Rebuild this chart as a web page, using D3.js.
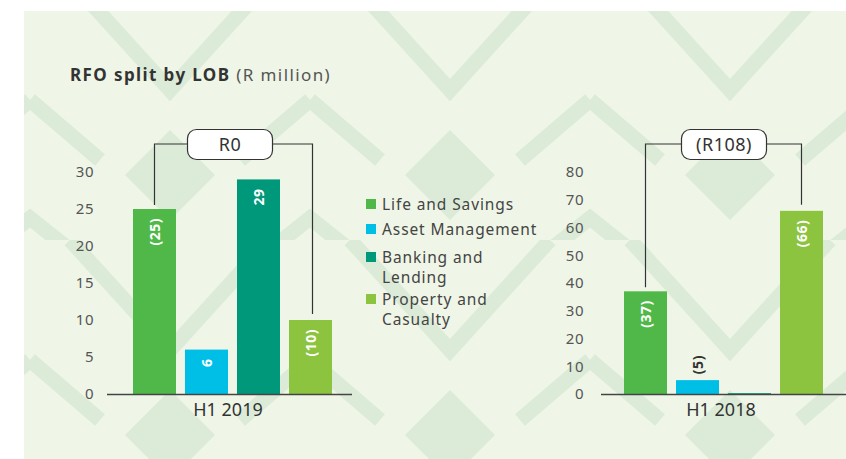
<!DOCTYPE html>
<html>
<head>
<meta charset="utf-8">
<script src="https://cdn.jsdelivr.net/npm/d3@7"></script>
<style>
  body { margin: 0; background: #fff; }
  svg { display: block; font-family: "Noto Sans", sans-serif; }
</style>
</head>
<body>
<svg id="chart" width="846" height="459"></svg>
<script>
// line of business categories
const categories = ['Life and Savings', 'Asset Management', 'Banking and Lending', 'Property and Casualty'];
const legendLines = [['Life and Savings'], ['Asset Management'], ['Banking and', 'Lending'], ['Property and', 'Casualty']];
const colors = ['#50b848', '#00bfe7', '#00987a', '#8cc43f'];

// bar heights (absolute) and the label printed on them
const values2019 = [25, 6, 29, 10];
const labels2019 = ['(25)', '6', '29', '(10)'];
const values2018 = [37, 5, 0.3, 66];
const labels2018 = ['(37)', '(5)', '', '(66)'];

const ticks2019 = [0, 5, 10, 15, 20, 25, 30];
const ticks2018 = [0, 10, 20, 30, 40, 50, 60, 70, 80];
const totals = ['R0', '(R108)'];
const periods = ['H1 2019', 'H1 2018'];

const svg = d3.select('#chart');

// background panel with chevron / diamond stripes
const defs = svg.append('defs');
const pat = defs.append('pattern')
  .attr('id', 'bgpat')
  .attr('patternUnits', 'userSpaceOnUse')
  .attr('width', 280).attr('height', 260)
  .attr('x', 30).attr('y', -20);
pat.append('rect').attr('width', 280).attr('height', 260).attr('fill', '#eff6e7');
const stripe = '#dcebd8';
// big chevron
pat.append('path').attr('d', 'M40,0 L140,110 L240,0').attr('fill', 'none').attr('stroke', stripe).attr('stroke-width', 15);
// diamond
pat.append('path').attr('d', 'M140,150 L185,195 L140,240 L95,195 Z').attr('fill', stripe);
// slanted bands
pat.append('path').attr('d', 'M0,120 L70,180').attr('stroke', stripe).attr('stroke-width', 15);
pat.append('path').attr('d', 'M210,180 L280,120').attr('stroke', stripe).attr('stroke-width', 15);
pat.append('path').attr('d', 'M-10,230 L40,270').attr('stroke', stripe).attr('stroke-width', 15);
pat.append('path').attr('d', 'M240,270 L290,230').attr('stroke', stripe).attr('stroke-width', 15);

svg.append('rect')
  .attr('x', 24).attr('y', 11)
  .attr('width', 822).attr('height', 448)
  .attr('fill', 'url(#bgpat)');

// title
const title = svg.append('text').attr('x', 70).attr('y', 81).attr('fill', '#333')
  .style('font-size', '17px').style('letter-spacing', '1.4px');
title.append('tspan').attr('font-weight', 'bold').text('RFO split by LOB');
title.append('tspan').attr('fill', '#555').text(' (R million)');

function drawPanel(opt) {
  const g = svg.append('g');

  const x = d3.scaleBand()
    .domain(categories)
    .range(opt.xRange)
    .paddingInner(9 / 52)
    .paddingOuter(0);

  const y = d3.scaleLinear()
    .domain([0, opt.max])
    .range([394, 172]);

  // y tick labels
  const yAxis = d3.axisLeft(y).tickValues(opt.ticks).tickSize(0).tickPadding(0);
  const ax = g.append('g')
    .attr('transform', 'translate(' + opt.tickX + ',0)')
    .call(yAxis);
  ax.select('.domain').remove();
  ax.selectAll('text')
    .style('font-size', '15px')
    .style('font-family', '"Noto Sans", sans-serif')
    .style('letter-spacing', '0.5px')
    .attr('fill', '#555');

  // bars
  g.selectAll('.bar')
    .data(opt.values)
    .enter().append('rect')
    .attr('class', 'bar')
    .attr('x', (d, i) => x(categories[i]))
    .attr('y', d => y(d))
    .attr('width', x.bandwidth())
    .attr('height', d => y(0) - y(d))
    .attr('fill', (d, i) => colors[i]);

  // baseline
  g.append('line')
    .attr('x1', opt.axisX[0]).attr('x2', opt.axisX[1])
    .attr('y1', y(0) + 0.5).attr('y2', y(0) + 0.5)
    .attr('stroke', '#444').attr('stroke-width', 1.5);

  // value labels, rotated
  g.selectAll('.lbl')
    .data(opt.values)
    .enter().append('text')
    .attr('class', 'lbl')
    .attr('transform', (d, i) => {
      const cx = x(categories[i]) + x.bandwidth() / 2;
      const inside = y(0) - y(d) > 30;
      const ty = inside ? y(d) + 9 : y(d) - 6;
      return 'translate(' + (cx + 5) + ',' + ty + ') rotate(-90)';
    })
    .attr('text-anchor', d => (y(0) - y(d) > 30 ? 'end' : 'start'))
    .attr('fill', d => (y(0) - y(d) > 30 ? '#fff' : '#333'))
    .attr('font-weight', 'bold')
    .style('font-size', '14px')
    .style('letter-spacing', '0.5px')
    .text((d, i) => opt.labels[i]);

  // period label
  g.append('text')
    .attr('x', opt.periodX).attr('y', 416)
    .attr('text-anchor', 'middle')
    .attr('fill', '#333')
    .style('font-size', '18px')
    .text(opt.period);

  // bracket joining first and last bar with the total
  const first = x(categories[0]) + x.bandwidth() / 2;
  const last = x(categories[3]) + x.bandwidth() / 2 + opt.lastShift;
  const top = 144;
  g.append('path')
    .attr('d', 'M' + first + ',' + (y(opt.values[0]) - 4) + 'V' + top + 'H' + last + 'V' + (y(opt.values[3]) - 6))
    .attr('fill', 'none')
    .attr('stroke', '#333').attr('stroke-width', 1.2);

  g.append('rect')
    .attr('x', opt.boxX).attr('y', 129.5)
    .attr('width', 85).attr('height', 30)
    .attr('rx', 9)
    .attr('fill', '#fff')
    .attr('stroke', '#333').attr('stroke-width', 1.2);
  g.append('text')
    .attr('x', opt.boxX + 42.5).attr('y', 151)
    .attr('text-anchor', 'middle')
    .attr('fill', '#333')
    .style('font-size', '18px')
    .style('letter-spacing', '0.5px')
    .text(opt.total);
}

drawPanel({
  xRange: [133, 332], max: 30, ticks: ticks2019, tickX: 94, lastShift: 2,
  values: values2019, labels: labels2019, axisX: [107, 352],
  period: periods[0], periodX: 228, boxX: 187.5, total: totals[0]
});

drawPanel({
  xRange: [624, 823], max: 80, ticks: ticks2018, tickX: 584, lastShift: 0,
  values: values2018, labels: labels2018, axisX: [601, 846],
  period: periods[1], periodX: 721, boxX: 681.5, total: totals[1]
});

// legend
const legend = svg.append('g');
const legendY = [204, 229, 257, 299];
legendLines.forEach((lines, i) => {
  legend.append('rect')
    .attr('x', 366).attr('y', legendY[i] - 5)
    .attr('width', 10).attr('height', 10)
    .attr('fill', colors[i]);
  const t = legend.append('text')
    .attr('x', 382).attr('y', legendY[i] + 5.5)
    .attr('fill', '#444')
    .style('font-size', '15.5px')
    .style('letter-spacing', '0.9px');
  lines.forEach((s, j) => {
    t.append('tspan').attr('x', 382).attr('dy', j === 0 ? 0 : 20).text(s);
  });
});
</script>
</body>
</html>
